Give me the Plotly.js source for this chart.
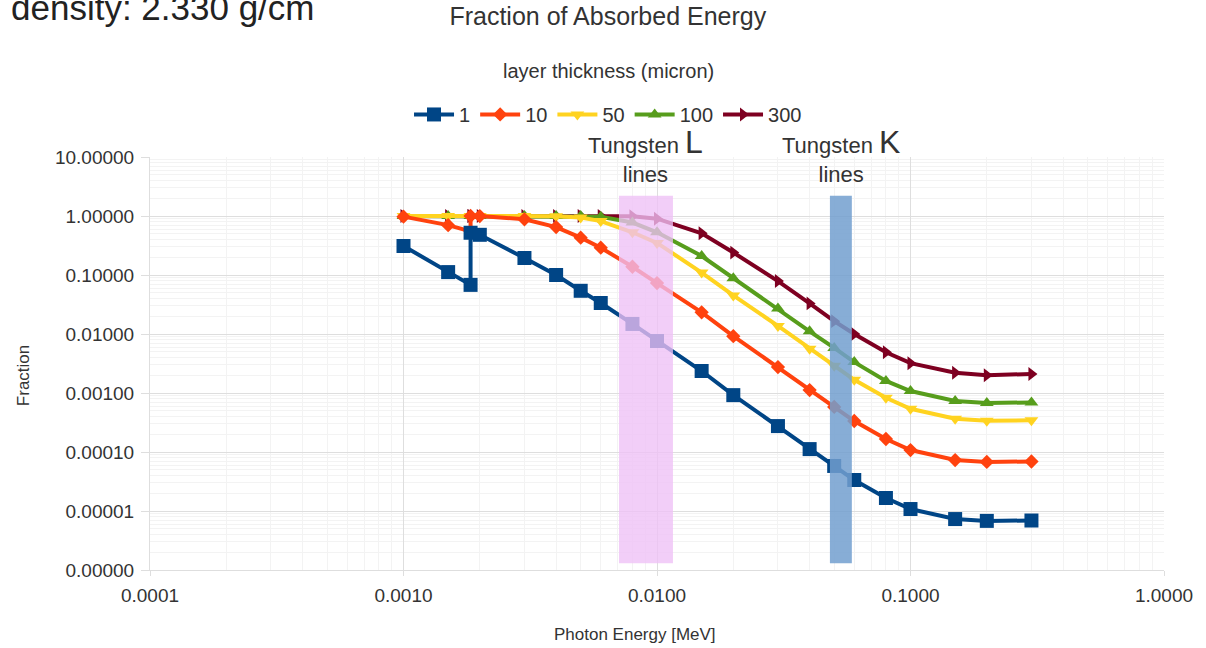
<!DOCTYPE html>
<html>
<head>
<meta charset="utf-8">
<script src="https://cdn.plot.ly/plotly-3.0.1.min.js"></script>
<style>
html,body{margin:0;padding:0;background:#fff;}
#chart{width:1206px;height:648px;}
</style>
</head>
<body>
<div id="chart"></div>
<script>
// Photon energy grid (MeV); the Si K edge appears twice
const energy = [0.001, 0.0015, 0.0018389, 0.0018389, 0.002, 0.003, 0.004, 0.005, 0.006, 0.008, 0.01, 0.015, 0.02, 0.03, 0.04, 0.05, 0.06, 0.08, 0.1, 0.15, 0.2, 0.3];

// Fraction of absorbed energy per layer thickness (micron)
const frac1   = [0.31, 0.112, 0.068, 0.52, 0.48, 0.194, 0.100, 0.054, 0.0335, 0.0148, 0.0076, 0.00236, 0.00092, 0.000275, 0.000112, 0.000058, 0.0000335, 0.0000166, 0.0000108, 0.0000073, 0.0000068, 0.0000069];
const frac10  = [0.975, 0.70, 0.55, 1.0, 0.998, 0.88, 0.65, 0.43, 0.29, 0.138, 0.073, 0.0233, 0.0092, 0.00275, 0.00112, 0.00058, 0.000335, 0.000166, 0.000108, 0.000073, 0.000068, 0.000069];
const frac50  = [1.0, 0.998, 0.97, 1.0, 1.0, 1.0, 0.995, 0.94, 0.82, 0.53, 0.35, 0.11, 0.045, 0.0137, 0.0056, 0.0029, 0.00167, 0.00083, 0.00054, 0.000365, 0.00034, 0.000345];
const frac100 = [1.0, 1.0, 0.999, 1.0, 1.0, 1.0, 1.0, 0.996, 0.967, 0.775, 0.53, 0.21, 0.088, 0.027, 0.0111, 0.0058, 0.00334, 0.0016, 0.00108, 0.00073, 0.00068, 0.00069];
const frac300 = [1.0, 1.0, 1.0, 1.0, 1.0, 1.0, 1.0, 1.0, 1.0, 0.989, 0.90, 0.51, 0.24, 0.079, 0.033, 0.0165, 0.010, 0.0049, 0.0032, 0.0022, 0.0020, 0.0021];

const seriesNames = ['1', '10', '50', '100', '300'];

// Tungsten emission line bands (MeV) and their vertical extent
const tungstenL = [0.00708, 0.01156];
const tungstenK = [0.0481, 0.0587];
const bandY = [1.3e-6, 2.2];

const FONT = 'Liberation Sans, Arial, sans-serif';
const colors = ['#004586', '#ff420e', '#ffd320', '#579d1c', '#7e0021'];
const symbols = ['square', 'diamond', 'triangle-down', 'triangle-up', 'triangle-right'];
const sizes = [14, 11, 12, 12, 12];
const values = [frac1, frac10, frac50, frac100, frac300];

const traces = [];
for (let i = values.length - 1; i >= 0; i--) {
  traces.push({
    x: energy, y: values[i], name: seriesNames[i],
    type: 'scatter', mode: 'lines+markers',
    line: {color: colors[i], width: 4},
    marker: {color: colors[i], symbol: symbols[i], size: sizes[i]}
  });
}

function gmean(a) { return Math.sqrt(a[0] * a[1]); }

const layout = {
  width: 1206, height: 648,
  margin: {l: 150, r: 42, t: 157, b: 78},
  paper_bgcolor: '#fff', plot_bgcolor: '#fff',
  font: {family: FONT, color: '#333'},
  showlegend: true,
  title: {text: 'Fraction of Absorbed Energy', font: {size: 25, color: '#333', family: FONT},
          x: 0.504, xanchor: 'center', xref: 'container', y: 0.975, yanchor: 'middle', yref: 'container'},
  legend: {orientation: 'h', traceorder: 'reversed', x: 0.4517, xanchor: 'center', y: 1.103, yanchor: 'middle',
           font: {size: 20, color: '#333'}, bgcolor: 'rgba(0,0,0,0)', itemwidth: 40},
  xaxis: {type: 'log', range: [-4, 0], dtick: 1, tickformat: '.4f',
          showgrid: true, gridcolor: '#dedede', gridwidth: 1,
          minor: {dtick: 'D1', showgrid: true, gridcolor: '#f3f3f3', ticks: ''},
          ticks: 'outside', ticklen: 5, tickcolor: '#dedede', ticklabelstandoff: 3,
          showline: true, linecolor: '#dedede', zeroline: false,
          tickfont: {size: 19, color: '#333'}},
  yaxis: {type: 'log', range: [-6, 1], dtick: 1, tickformat: '.5f',
          showgrid: true, gridcolor: '#dedede', gridwidth: 1,
          minor: {dtick: 'D1', showgrid: true, gridcolor: '#f3f3f3', ticks: ''},
          ticks: 'outside', ticklen: 8, tickcolor: '#dedede', ticklabelstandoff: 3,
          showline: true, linecolor: '#dedede', zeroline: false,
          tickfont: {size: 19, color: '#333'}},
  shapes: [
    {type: 'rect', xref: 'x', yref: 'y', x0: tungstenL[0], x1: tungstenL[1], y0: bandY[0], y1: bandY[1],
     fillcolor: 'rgb(238,192,246)', opacity: 0.78, line: {width: 0}, layer: 'above'},
    {type: 'rect', xref: 'x', yref: 'y', x0: tungstenK[0], x1: tungstenK[1], y0: bandY[0], y1: bandY[1],
     fillcolor: '#729fcf', opacity: 0.85, line: {width: 0}, layer: 'above'}
  ],
  annotations: [
    {text: 'density: 2.330 g/cm', xref: 'paper', yref: 'paper', x: -0.139, xanchor: 'left',
     y: 1.311, yanchor: 'bottom', showarrow: false, font: {size: 35, color: '#222', family: FONT}},
    {text: 'layer thickness (micron)', xref: 'paper', yref: 'paper', x: 0.4517, xanchor: 'center',
     y: 1.208, yanchor: 'middle', showarrow: false, font: {size: 20, color: '#333', family: FONT}},
    {text: 'Tungsten <span style="font-size:32px">L</span><br>lines', xref: 'x', yref: 'paper',
     x: Math.log10(gmean(tungstenL)), xanchor: 'center', y: 0.922, yanchor: 'bottom', showarrow: false,
     font: {size: 22, color: '#333', family: FONT}},
    {text: 'Tungsten <span style="font-size:32px">K</span><br>lines', xref: 'x', yref: 'paper',
     x: Math.log10(gmean(tungstenK)), xanchor: 'center', y: 0.922, yanchor: 'bottom', showarrow: false,
     font: {size: 22, color: '#333', family: FONT}},
    {text: 'Photon Energy [MeV]', xref: 'paper', yref: 'paper', x: 0.478, xanchor: 'center',
     y: -0.155, yanchor: 'middle', showarrow: false, font: {size: 17, color: '#333', family: FONT}},
    {text: 'Fraction', xref: 'paper', yref: 'paper', x: -0.124, xanchor: 'center',
     y: 0.47, yanchor: 'middle', textangle: -90, showarrow: false, font: {size: 17, color: '#333', family: FONT}}
  ]
};

Plotly.newPlot('chart', traces, layout, {staticPlot: true, displayModeBar: false});
</script>
</body>
</html>
